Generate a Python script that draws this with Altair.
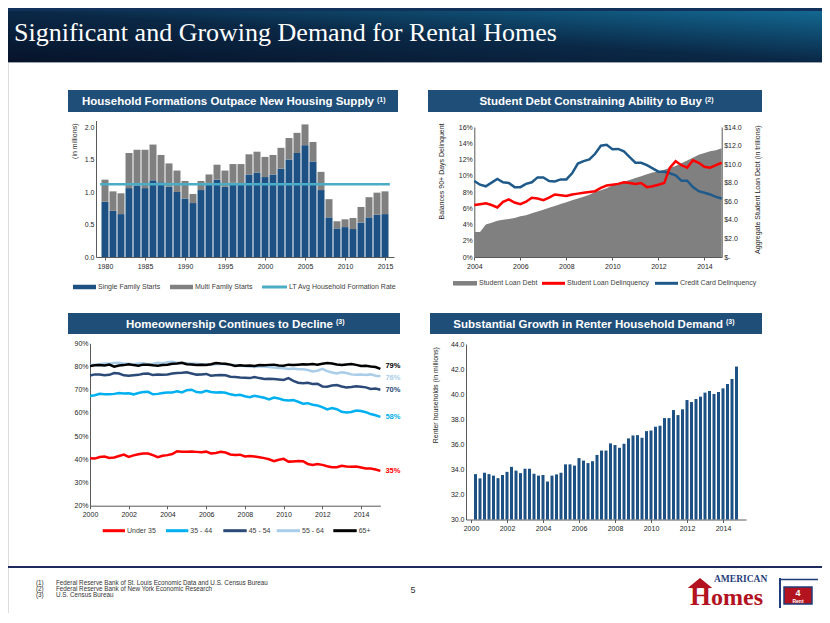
import altair as alt
import pandas as pd

FONT = "Liberation Sans"
SERIF = "Liberation Serif"
W, H = 814, 605
AX = "#595959"
LAB = "#262626"
LEG = "#404040"
BAR_NAVY = "#1F4E79"
SF_BLUE = "#1D5183"
GRAY = "#808080"
LT_BLUE = "#4BACC6"
RED = "#FF0000"
CC_BLUE = "#1F5A8A"

# ---------------- data ----------------
# (1) Housing starts (millions) vs long-term household formation
hf_years = list(range(1980, 2016))
single_family = [0.85, 0.71, 0.66, 1.06, 1.10, 1.06, 1.18, 1.15, 1.08, 1.00,
                 0.90, 0.83, 1.03, 1.12, 1.19, 1.08, 1.14, 1.13, 1.27, 1.30,
                 1.23, 1.27, 1.36, 1.50, 1.60, 1.72, 1.47, 1.03, 0.61, 0.44,
                 0.46, 0.43, 0.53, 0.61, 0.65, 0.66]
multi_family = [0.34, 0.30, 0.32, 0.54, 0.55, 0.59, 0.55, 0.42, 0.36, 0.33,
                0.27, 0.14, 0.14, 0.15, 0.23, 0.25, 0.29, 0.30, 0.31, 0.32,
                0.31, 0.30, 0.32, 0.33, 0.31, 0.32, 0.30, 0.28, 0.28, 0.11,
                0.12, 0.17, 0.24, 0.31, 0.34, 0.35]
lt_avg_formation = 1.12
hf_series = ["Single Family Starts", "Multi Family Starts", "LT Avg Household Formation Rate"]

# (2) Student debt, quarterly 2004Q1-2014Q4
sd_start_year = 2004
student_loan_debt = [2.7, 2.7, 3.5, 3.7, 3.9, 4.0, 4.1, 4.2, 4.4, 4.5, 4.7, 4.9,
                     5.1, 5.3, 5.5, 5.7, 5.9, 6.1, 6.3, 6.5, 6.7, 7.0, 7.2, 7.4,
                     7.7, 7.9, 8.1, 8.3, 8.5, 8.7, 8.9, 9.1, 9.2, 9.4, 9.6, 9.8,
                     10.1, 10.4, 10.7, 11.0, 11.2, 11.4, 11.5, 11.7]
student_loan_delinq = [6.4, 6.5, 6.6, 6.4, 6.1, 6.8, 7.1, 6.7, 6.5, 6.8, 7.3, 7.2,
                       7.0, 7.3, 7.7, 7.6, 7.5, 7.7, 7.8, 7.9, 8.0, 8.1, 8.5, 8.8,
                       8.9, 9.0, 9.2, 9.1, 9.0, 9.1, 8.6, 8.7, 8.9, 9.1, 11.0, 11.8,
                       11.3, 11.0, 11.9, 11.6, 11.1, 11.0, 11.3, 11.6]
credit_card_delinq = [9.35, 8.9, 8.7, 9.15, 9.6, 9.2, 9.1, 8.6, 8.6, 9.0, 9.2, 9.8,
                      9.8, 9.35, 9.3, 9.55, 9.55, 10.3, 11.5, 11.8, 12.0, 12.7, 13.7, 13.8,
                      13.25, 13.3, 13.0, 12.3, 11.6, 11.6, 11.3, 10.9, 10.5, 10.5, 10.3, 10.05,
                      9.4, 9.4, 8.6, 8.1, 7.9, 7.7, 7.4, 7.2]
sd_series = ["Student Loan Debt", "Student Loan Delinquency", "Credit Card Delinquency"]

# (3) Homeownership rate by age (%), quarterly 2000Q1-2015Q1
ho_start_year = 2000
ho_groups = ["Under 35", "35 - 44", "45 - 54", "55 - 64", "65+"]
ho_under35 = [40.5, 40.3, 41.0, 41.2, 40.6, 40.8, 41.4, 42.0, 41.0, 41.7, 42.2, 42.5,
              42.5, 41.8, 40.9, 41.5, 41.8, 42.3, 43.5, 43.3, 43.3, 43.4, 43.2, 43.0,
              43.3, 42.5, 42.7, 43.2, 42.9, 42.1, 41.9, 42.0, 41.2, 41.4, 41.2, 40.9,
              40.5, 40.0, 39.2, 39.8, 40.2, 39.0, 39.1, 39.3, 39.2, 38.0, 37.6, 38.0,
              37.6, 37.0, 36.6, 36.6, 37.2, 36.9, 36.8, 36.9, 36.5, 36.0, 36.0, 35.6, 35.0]
ho_35_44 = [67.3, 67.6, 68.2, 68.0, 68.0, 68.2, 68.6, 68.4, 68.5, 68.0, 68.6, 69.0,
            69.1, 68.0, 68.2, 68.6, 68.8, 68.8, 69.3, 68.8, 69.8, 70.0, 69.0, 68.8,
            69.5, 69.0, 68.8, 68.9, 68.7, 68.0, 67.6, 67.8, 67.2, 66.8, 67.4, 67.0,
            66.5, 65.8, 66.6, 66.2, 65.6, 65.3, 65.5, 64.8, 64.0, 64.2, 63.5, 63.2,
            62.5, 61.5, 62.1, 61.6, 60.5, 60.2, 60.4, 61.0, 60.8, 60.3, 59.5, 59.0, 58.3]
ho_45_54 = [76.1, 76.6, 76.5, 76.2, 76.4, 77.2, 77.0, 76.2, 76.0, 76.2, 76.4, 76.9,
            77.0, 76.3, 76.5, 76.4, 76.6, 77.0, 77.2, 77.3, 77.5, 77.0, 76.5, 76.6,
            76.8, 76.0, 76.2, 76.3, 76.2, 75.6, 75.5, 75.3, 75.2, 75.0, 75.5, 75.0,
            74.6, 74.7, 74.6, 74.4, 74.2, 75.0, 73.8, 73.0, 72.8, 73.0, 72.5, 72.6,
            71.4, 71.3, 71.8, 72.0, 71.4, 71.0, 71.2, 71.5, 71.3, 71.0, 70.3, 70.5, 70.0]
ho_55_64 = [80.5, 80.8, 81.0, 81.3, 81.2, 81.5, 81.6, 81.2, 81.2, 81.0, 81.3, 81.4,
            81.0, 81.2, 81.6, 81.4, 81.8, 82.0, 81.6, 81.5, 81.4, 81.3, 81.2, 81.0,
            81.0, 80.8, 81.0, 81.2, 81.0, 80.7, 80.6, 80.3, 80.2, 80.0, 79.8, 80.1,
            80.0, 79.8, 79.6, 79.4, 79.2, 78.9, 79.1, 78.8, 78.8, 78.5, 77.9, 78.2,
            79.0, 78.0, 77.4, 77.0, 77.5, 77.2, 76.6, 76.4, 76.5, 76.3, 76.6, 76.0, 75.8]
ho_65plus = [80.2, 80.5, 80.6, 80.4, 80.8, 79.9, 80.4, 80.6, 81.0, 80.6, 80.3, 80.8,
             80.8, 80.5, 80.3, 80.6, 80.8, 81.2, 81.3, 81.6, 81.0, 80.9, 80.7, 80.8,
             80.7, 81.0, 81.5, 81.3, 81.2, 80.8, 80.2, 80.5, 80.3, 80.4, 80.2, 80.6,
             80.5, 80.7, 80.8, 80.4, 80.3, 80.8, 80.6, 80.8, 81.0, 80.9, 81.1, 80.8,
             81.2, 81.5, 81.3, 80.9, 80.6, 80.9, 81.1, 80.7, 80.2, 80.3, 80.0, 79.8, 79.0]
ho_end_labels = ["35%", "58%", "70%", "76%", "79%"]

# (4) Renter households (millions), quarterly, first bar 2000Q1
rh_start_year = 2000
renter_households = [33.62, 33.28, 33.73, 33.62, 33.50, 33.30, 33.55, 33.80,
                     34.20, 33.90, 33.70, 34.05, 34.05, 33.65, 33.50, 33.55,
                     33.03, 33.50, 33.60, 33.73, 34.40, 34.40, 34.30, 34.90,
                     34.70, 34.50, 34.65, 35.15, 35.50, 35.50, 36.07, 35.94,
                     35.72, 36.04, 36.47, 36.70, 36.73, 36.52, 37.05, 37.10,
                     37.40, 37.48, 38.09, 38.09, 38.73, 38.33, 38.79, 39.53,
                     39.37, 39.61, 39.80, 40.12, 40.25, 40.01, 40.17, 40.46,
                     40.81, 41.21, 42.20]

footnotes = ["Federal Reserve Bank of St. Louis Economic Data and U.S. Census Bureau",
             "Federal Reserve Bank of New York Economic Research",
             "U.S. Census Bureau"]


def quarterly(start, values, shift=0.0):
    return pd.DataFrame({"t": [start + shift + i / 4 for i in range(len(values))], "v": values})


dummy = pd.DataFrame({"d": [0]})


# ---------------- helpers ----------------
def txt(x, y, s, size, color, weight="normal", align="left", baseline="middle", font=FONT):
    return alt.Chart(dummy).mark_text(text=s, fontSize=size, color=color, fontWeight=weight,
                                      align=align, baseline=baseline, font=font).encode(
        x=alt.value(x), y=alt.value(y))


def rect(x0, x1, y0, y1, color, **kw):
    return alt.Chart(dummy).mark_rect(color=color, **kw).encode(
        x=alt.value(x0), x2=alt.value(x1), y=alt.value(y0), y2=alt.value(y1))


def hline(x0, x1, y, color, w):
    return alt.Chart(dummy).mark_rule(color=color, strokeWidth=w).encode(
        x=alt.value(x0), x2=alt.value(x1), y=alt.value(y))


def vline(x, y0, y1, color, w):
    return alt.Chart(dummy).mark_rule(color=color, strokeWidth=w).encode(
        x=alt.value(x), y=alt.value(y0), y2=alt.value(y1))


def leg_rect(x0, x1, y, label, color, h=4.5):
    return [rect(x0, x1, y - h / 2, y + h / 2, color), txt(x1 + 2, y, label, 7, LEG)]


def leg_line(x0, x1, y, label, color, w=3):
    return [hline(x0, x1, y, color, w), txt(x1 + 2, y, label, 7, LEG)]


def panel_title(x0, x1, y0, y1, title, note, text_end):
    yc = (y0 + y1) / 2
    return [rect(x0, x1, y0, y1, BAR_NAVY),
            txt(text_end, yc + 4, title, 11.5, "white", "bold", align="right", baseline="alphabetic"),
            txt(text_end + 3, yc + 0.5, note, 7, "white", "bold", align="left", baseline="alphabetic")]


def ax(orient, pos, values, fmt=None, expr=None, title=None, tx=0, ty=0, ticks=True):
    if orient == "left":
        off = -pos
    elif orient == "right":
        off = pos - W
    else:
        off = pos - H
    kw = dict(orient=orient, offset=off, values=values, grid=False, domainColor=AX,
              tickColor=AX, tickSize=3, ticks=ticks, labelFont=FONT, labelFontSize=7,
              labelColor=LAB, labelPadding=2, labelFlush=False, labelOverlap=False,
              domainWidth=1)
    if fmt:
        kw["format"] = fmt
    if expr:
        kw["labelExpr"] = expr
    if title:
        kw.update(title=title, titleX=tx, titleY=ty, titleAngle=270, titleAlign="right",
                  titleBaseline="middle", titleFont=FONT, titleFontSize=7,
                  titleFontWeight="normal", titleColor=LAB)
    else:
        kw["title"] = None
    return alt.Axis(**kw)


def sc(domain, rng):
    return alt.Scale(domain=domain, range=rng, nice=False, zero=False)


layers = []

# ---------------- header ----------------
grad = alt.LinearGradient(
    gradient="linear",
    stops=[alt.GradientStop(color="#07132a", offset=0),
           alt.GradientStop(color="#0a2846", offset=0.5),
           alt.GradientStop(color="#136892", offset=1)],
    x1=0, x2=1, y1=1, y2=0)
layers += [rect(0, W, 0, 3, "#12325b"), rect(0, W, 3, 54, grad),
           hline(0, W, 54.5, "#9aa4ae", 1),
           txt(6, 33, "Significant and Growing Demand for Rental Homes", 26, "white",
               align="left", baseline="alphabetic", font=SERIF)]

# ---------------- panel 1 ----------------
layers += panel_title(60, 390, 82, 104, "Household Formations Outpace New Housing Supply", "(1)", 366)
n1 = len(hf_years)
hf = pd.DataFrame({"year": hf_years * 2,
                   "series": [hf_series[0]] * n1 + [hf_series[1]] * n1,
                   "k": [0] * n1 + [1] * n1,
                   "v": single_family + multi_family})
x1 = sc([1979.5, 2015.5], [88, 386])
y1 = alt.Scale(domain=[0, 2.1], range=[249, 112.5], nice=False)
bars1 = alt.Chart(hf).mark_bar(size=7).encode(
    x=alt.X("year:Q", scale=x1, axis=ax("bottom", 249, list(range(1980, 2016, 5)), fmt="d")),
    y=alt.Y("v:Q", stack="zero", scale=y1,
            axis=ax("left", 88, [0, 0.5, 1, 1.5, 2], fmt=".1f", title="(in millions)", tx=-22, ty=115,
                    ticks=False)),
    color=alt.Color("series:N", scale=alt.Scale(domain=hf_series[:2], range=[SF_BLUE, GRAY]), legend=None),
    order=alt.Order("k:Q"))
lt = pd.DataFrame({"year": [hf_years[0], hf_years[-1]], "v": [lt_avg_formation, lt_avg_formation]})
line1 = alt.Chart(lt).mark_line(color=LT_BLUE, strokeWidth=2.5).encode(
    x=alt.X("year:Q", scale=x1, axis=None), y=alt.Y("v:Q", scale=y1, axis=None))
layers += [bars1, line1]
layers += leg_rect(65, 88, 279, hf_series[0], SF_BLUE)
layers += leg_rect(162, 185, 279, hf_series[1], GRAY)
layers += leg_line(254, 279, 279, hf_series[2], LT_BLUE)

# ---------------- panel 2 ----------------
layers += panel_title(420, 754, 82, 104, "Student Debt Constraining Ability to Buy", "(2)", 694)
x2 = sc([2004, 2014.75], [466.3, 713.7])
yl2 = alt.Scale(domain=[0, 16], range=[249, 119], nice=False)
yr2 = alt.Scale(domain=[0, 14], range=[249, 119], nice=False)
area2 = alt.Chart(quarterly(sd_start_year, student_loan_debt)).mark_area(color=GRAY, opacity=1).encode(
    x=alt.X("t:Q", scale=x2, axis=ax("bottom", 249, list(range(2004, 2015, 2)), fmt="d")),
    y=alt.Y("v:Q", scale=yr2,
            axis=ax("right", 713.7, list(range(0, 15, 2)),
                    expr="datum.value == 0 ? '$-' : '$' + format(datum.value, '.1f')",
                    title="Aggregate Student Loan Debt (in trillions)", tx=35.3, ty=117, ticks=False)),
    y2=alt.datum(0))
cc2 = alt.Chart(quarterly(sd_start_year, credit_card_delinq)).mark_line(color=CC_BLUE, strokeWidth=2.5).encode(
    x=alt.X("t:Q", scale=x2, axis=None), y=alt.Y("v:Q", scale=yl2, axis=None))
sl2 = alt.Chart(quarterly(sd_start_year, student_loan_delinq)).mark_line(color=RED, strokeWidth=2.5).encode(
    x=alt.X("t:Q", scale=x2, axis=None),
    y=alt.Y("v:Q", scale=yl2,
            axis=ax("left", 466.3, list(range(0, 17, 2)), expr="datum.value + '%'",
                    title="Balances 90+ Days Delinquent", tx=-32.6, ty=115, ticks=False)))
layers += [area2, cc2, sl2]
layers += leg_rect(445, 469, 275.3, sd_series[0], GRAY)
layers += leg_line(534, 557, 275.3, sd_series[1], RED)
layers += leg_line(647, 670, 275.3, sd_series[2], CC_BLUE)

# ---------------- panel 3 ----------------
layers += panel_title(60, 392, 305, 326, "Homeownership Continues to Decline", "(3)", 325)
x3 = sc([2000, 2015], [82, 372.4])
y3 = alt.Scale(domain=[20, 90], range=[497.7, 335.3], nice=False, zero=False)
ho_colors = [RED, "#00B0F0", "#2C4A78", "#A9CDE9", "#000000"]
ho_label_dy = [0, 0, 0, 2, -3]
ho_values = [ho_under35, ho_35_44, ho_45_54, ho_55_64, ho_65plus]
for i, (vals, col) in enumerate(zip(ho_values, ho_colors)):
    df = quarterly(ho_start_year, vals)
    if i == 0:
        xa = ax("bottom", 497.7, list(range(2000, 2015, 2)), fmt="d")
        ya = ax("left", 82, list(range(20, 91, 10)), expr="datum.value + '%'", ticks=False)
    else:
        xa, ya = None, None
    layers.append(alt.Chart(df).mark_line(color=col, strokeWidth=2.5).encode(
        x=alt.X("t:Q", scale=x3, axis=xa), y=alt.Y("v:Q", scale=y3, axis=ya)))
for vals, col, lab, ddy in zip(ho_values, ho_colors, ho_end_labels, ho_label_dy):
    last = quarterly(ho_start_year, vals).tail(1)
    layers.append(alt.Chart(last).mark_text(text=lab, align="left", baseline="middle", dx=5, dy=ddy,
                                            fontSize=7.5, fontWeight="bold", color=col, font=FONT).encode(
        x=alt.X("t:Q", scale=x3, axis=None), y=alt.Y("v:Q", scale=y3, axis=None)))
leg3_pos = [(94.7, 117), (158, 180.3), (215.3, 238.7), (268.7, 292), (325.3, 348.7)]
for (a, b), col, lab in zip(leg3_pos, ho_colors, ho_groups):
    layers += leg_line(a, b, 522.7, lab, col)

# ---------------- panel 4 ----------------
layers += panel_title(422, 754, 305, 326, "Substantial Growth in Renter Household Demand", "(3)", 715)
x4 = sc([2000, 2015], [458, 738])
y4 = alt.Scale(domain=[30, 44], range=[511.5, 336], nice=False, zero=False)
bars4 = alt.Chart(quarterly(rh_start_year, renter_households, shift=0.25)).mark_bar(size=3, color=SF_BLUE).encode(
    x=alt.X("t:Q", scale=x4, axis=ax("bottom", 511.5, list(range(2000, 2015, 2)), fmt="d")),
    y=alt.Y("v:Q", scale=y4,
            axis=ax("left", 458, list(range(30, 45, 2)), fmt=".1f",
                    title="Renter households (in millions)", tx=-31, ty=338.7, ticks=False)),
    y2=alt.datum(30))
layers.append(bars4)

# ---------------- footer ----------------
layers.append(hline(0, W, 559, "#1F2A5C", 2))
for i, note in enumerate(footnotes):
    yy = 575 + i * 6
    layers += [txt(28, yy, f"({i + 1})", 6.3, "#333333"), txt(48, yy, note, 6.3, "#333333")]
layers.append(txt(405, 582, "5", 9, "#333333", align="center"))

# logo
LOGO_NAVY = "#1F3D7A"
LOGO_RED = "#B3121F"
layers += [
    txt(706, 573.5, "AMERICAN", 9.5, LOGO_NAVY, "bold", align="left", baseline="alphabetic", font=SERIF),
    txt(703, 597, "H", 27, LOGO_RED, "bold", align="right", baseline="alphabetic", font=SERIF),
    txt(703, 597, "omes", 24, LOGO_RED, "bold", align="left", baseline="alphabetic", font=SERIF),
    alt.Chart(dummy).mark_point(shape="M-1,0.4L0,-0.4L1,0.4Z", filled=True, color=LOGO_RED, size=600,
                                opacity=1).encode(x=alt.value(692), y=alt.value(575)),
    vline(772, 570, 600, LOGO_NAVY, 2),
    hline(772, 810, 571.5, LOGO_NAVY, 1.5),
    rect(776, 804, 579, 596, LOGO_RED, stroke=LOGO_NAVY, strokeWidth=1.5),
    txt(790, 585, "4", 9, "white", "bold", align="center"),
    txt(790, 592.5, "Rent", 5, "white", "bold", align="center"),
]

chart = alt.layer(*layers).resolve_scale(x="independent", y="independent", color="independent").properties(
    width=W, height=H, padding=0, autosize=alt.AutoSizeParams(type="none"),
    background="white").configure_view(strokeWidth=0).configure(font=FONT)

chart.save("out.html", embed_options={"renderer": "svg", "actions": False})
